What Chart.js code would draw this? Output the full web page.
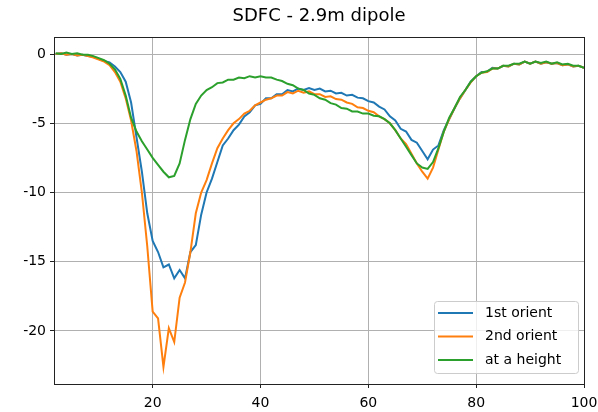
<!DOCTYPE html>
<html>
<head>
<meta charset="utf-8">
<script src="https://cdn.jsdelivr.net/npm/chart.js@4/dist/chart.umd.min.js"></script>
<style>
  html, body { margin: 0; padding: 0; background: #fff; }
  #wrap { width: 598px; height: 412px; }
</style>
</head>
<body>
<div id="wrap"><canvas id="chart" width="598" height="412"></canvas></div>
<script>
// x values
const freq = [2,3,4,5,6,7,8,9,10,11,12,13,14,15,16,17,18,19,20,21,22,23,24,25,26,27,28,29,30,
  31,32,33,34,35,36,37,38,39,40,41,42,43,44,45,46,47,48,49,50,51,52,53,54,55,56,57,58,59,60,
  61,62,63,64,65,66,67,68,69,70,71,72,73,74,75,76,77,78,79,80,81,82,83,84,85,86,87,88,89,90,
  91,92,93,94,95,96,97,98,99,100];

// series values (one per x)
const orient1 = [0.0,0.05,-0.05,0.0,-0.1,-0.05,-0.15,-0.2,-0.35,-0.5,-0.6,-0.9,-1.3,-2.0,-3.5,
  -6.0,-8.5,-11.5,-13.5,-14.3,-15.4,-15.2,-16.2,-15.6,-16.2,-14.3,-13.8,-11.6,-10.0,-9.0,
  -7.8,-6.6,-6.1,-5.5,-5.1,-4.5,-4.2,-3.7,-3.6,-3.2,-3.2,-2.9,-2.9,-2.6,-2.7,-2.5,-2.6,-2.45,
  -2.6,-2.5,-2.7,-2.65,-2.85,-2.8,-3.0,-2.95,-3.15,-3.2,-3.4,-3.5,-3.8,-4.0,-4.5,-4.8,-5.4,
  -5.6,-6.2,-6.4,-7.0,-7.6,-6.9,-6.6,-5.5,-4.7,-3.9,-3.2,-2.6,-2.0,-1.6,-1.3,-1.3,-1.0,-1.05,
  -0.85,-0.9,-0.7,-0.75,-0.55,-0.7,-0.55,-0.7,-0.6,-0.7,-0.65,-0.8,-0.75,-0.9,-0.85,-1.0];

const orient2 = [0.0,0.05,-0.05,0.0,-0.1,-0.05,-0.15,-0.25,-0.4,-0.55,-0.8,-1.3,-2.0,-3.2,-4.8,
  -7.0,-10.0,-13.9,-18.6,-19.1,-22.6,-19.8,-20.8,-17.6,-16.5,-14.3,-11.5,-10.0,-9.1,-7.9,
  -6.8,-6.1,-5.5,-5.0,-4.7,-4.3,-4.1,-3.7,-3.5,-3.3,-3.2,-3.0,-3.0,-2.75,-2.85,-2.65,-2.8,-2.7,
  -2.9,-2.9,-3.1,-3.05,-3.25,-3.3,-3.5,-3.6,-3.85,-3.9,-4.1,-4.2,-4.5,-4.7,-5.0,-5.5,-6.1,
  -6.5,-7.2,-7.9,-8.5,-9.0,-8.2,-6.9,-5.6,-4.7,-3.9,-3.2,-2.6,-2.05,-1.6,-1.35,-1.3,-1.05,-1.05,
  -0.85,-0.9,-0.7,-0.75,-0.55,-0.7,-0.55,-0.7,-0.6,-0.7,-0.65,-0.8,-0.75,-0.9,-0.85,-1.0];

const atHeight = [0.05,0.0,0.1,0.0,0.05,-0.05,-0.05,-0.15,-0.3,-0.45,-0.7,-1.1,-1.8,-3.0,-4.6,
  -5.6,-6.3,-6.9,-7.5,-8.0,-8.5,-8.9,-8.8,-7.9,-6.2,-4.7,-3.6,-3.0,-2.6,-2.4,
  -2.1,-2.05,-1.85,-1.85,-1.7,-1.75,-1.6,-1.7,-1.6,-1.7,-1.7,-1.85,-1.95,-2.15,-2.25,-2.5,-2.6,-2.85,
  -2.95,-3.2,-3.3,-3.55,-3.65,-3.9,-3.95,-4.15,-4.15,-4.3,-4.3,-4.45,-4.5,-4.7,-5.0,-5.5,-6.1,
  -6.7,-7.3,-7.9,-8.2,-8.3,-7.8,-6.8,-5.6,-4.6,-3.9,-3.1,-2.6,-2.0,-1.6,-1.35,-1.25,-1.05,-1.05,
  -0.85,-0.85,-0.7,-0.7,-0.55,-0.7,-0.55,-0.65,-0.55,-0.7,-0.6,-0.75,-0.7,-0.85,-0.85,-1.0];

const seriesNames = ['1st orient', '2nd orient', 'at a height'];
const seriesColors = ['#1f77b4', '#ff7f0e', '#2ca02c'];
const chartTitle = 'SDFC - 2.9m dipole';

// tick labels
const xTicks = [20, 40, 60, 80, 100];
const yTicks = [-20, -15, -10, -5, 0];

const FONT = "'DejaVu Sans', sans-serif";

function points(vals) {
    return freq.map((f, i) => ({ x: f, y: vals[i] }));
}

// title centred over the plot, frame around the plot, legend in the lower right
const framePlugin = {
    id: 'frame',
    afterDatasetsDraw(chart) {
        const ctx = chart.ctx;
        const a = chart.chartArea;
        ctx.save();
        ctx.strokeStyle = '#222';
        ctx.lineWidth = 1;
        ctx.strokeRect(Math.round(a.left) + 0.5, Math.round(a.top) + 0.5,
            Math.round(a.right - a.left), Math.round(a.bottom - a.top));

        ctx.fillStyle = '#000';
        ctx.font = '18px ' + FONT;
        ctx.textAlign = 'center';
        ctx.textBaseline = 'middle';
        ctx.fillText(chartTitle, (a.left + a.right) / 2, 16);

        // legend box
        const bw = 144, bh = 72;
        const bx = a.right - 6 - bw, by = a.bottom - 11 - bh;
        ctx.fillStyle = 'rgba(255,255,255,0.8)';
        ctx.strokeStyle = '#cccccc';
        ctx.beginPath();
        ctx.roundRect(bx + 0.5, by + 0.5, bw, bh, 3);
        ctx.fill();
        ctx.stroke();

        ctx.font = '14px ' + FONT;
        ctx.textAlign = 'left';
        chart.data.datasets.forEach((ds, i) => {
            const y = by + 12 + i * 23.5;
            ctx.strokeStyle = ds.borderColor;
            ctx.lineWidth = 2;
            ctx.beginPath();
            ctx.moveTo(bx + 4, y);
            ctx.lineTo(bx + 39, y);
            ctx.stroke();
            ctx.fillStyle = '#000';
            ctx.fillText(ds.label, bx + 51, y);
        });
        ctx.restore();
    }
};

const ctx = document.getElementById('chart').getContext('2d');
new Chart(ctx, {
    type: 'line',
    data: {
        datasets: [
            { label: seriesNames[0], data: points(orient1), borderColor: seriesColors[0], order: 2 },
            { label: seriesNames[1], data: points(orient2), borderColor: seriesColors[1], order: 1 },
            { label: seriesNames[2], data: points(atHeight), borderColor: seriesColors[2], order: 0 }
        ]
    },
    options: {
        responsive: false,
        animation: false,
        devicePixelRatio: 1,
        layout: { padding: { left: 0, right: 14, top: 37, bottom: 0 } },
        elements: {
            point: { radius: 0 },
            line: { borderWidth: 2, tension: 0, fill: false }
        },
        plugins: {
            legend: { display: false },
            tooltip: { enabled: false },
            title: { display: false }
        },
        scales: {
            x: {
                type: 'linear',
                min: 1.7,
                max: 100,
                afterBuildTicks(scale) { scale.ticks = xTicks.map(v => ({ value: v })); },
                afterFit(scale) {
                    scale.height = 28;
                    scale.paddingLeft = 0;
                    scale.paddingRight = 0;
                },
                grid: { color: '#b0b0b0', lineWidth: 1, tickLength: 4, tickColor: '#222' },
                border: { display: false },
                ticks: { color: '#000', padding: 7, maxRotation: 0, font: { family: FONT, size: 14 } }
            },
            y: {
                type: 'linear',
                min: -23.83,
                max: 1.23,
                afterBuildTicks(scale) { scale.ticks = yTicks.map(v => ({ value: v })); },
                afterFit(scale) {
                    scale.width = 54;
                    scale.paddingTop = 0;
                    scale.paddingBottom = 0;
                },
                grid: { color: '#b0b0b0', lineWidth: 1, tickLength: 4, tickColor: '#222' },
                border: { display: false },
                ticks: { color: '#000', padding: 4, font: { family: FONT, size: 14 } }
            }
        }
    },
    plugins: [framePlugin]
});
</script>
</body>
</html>
